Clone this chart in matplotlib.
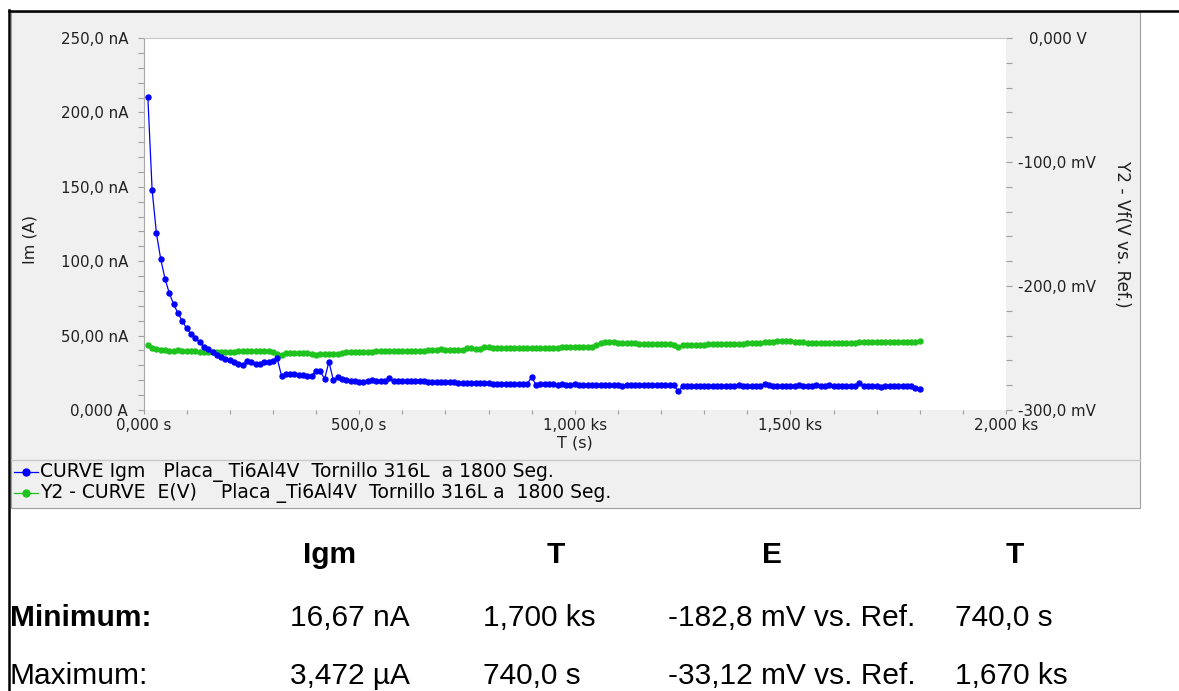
import numpy as np
import matplotlib
matplotlib.use("Agg")
import matplotlib.pyplot as plt
from matplotlib.lines import Line2D
from matplotlib.patches import Rectangle
from matplotlib.ticker import FixedLocator, MultipleLocator

# sample times (s), one reading every 10 s
time_s = np.arange(10, 1810, 10)

# CURVE Igm (nA)
igm_na = [
    210.6, 147.8, 118.7, 101.3, 88.0, 78.4, 71.0, 65.0, 59.8, 54.9, 51.1, 48.2, 45.5, 42.5, 40.8,
    38.8, 37.2, 35.8, 34.5, 33.4, 32.3, 31.1, 30.4, 32.7, 32.0, 31.1, 31.1, 32.0, 32.0, 33.2, 34.7,
    23.1, 24.0, 24.0, 24.0, 23.8, 23.5, 23.1, 22.6,
    26.4, 26.0, 20.8, 32.5, 20.2, 22.0,
    20.8, 20.2, 19.7, 19.3, 18.8, 19.0, 19.3, 19.9, 19.3, 19.3, 19.3, 21.5, 19.5,
    19.3, 19.4, 19.3, 19.3, 19.2, 19.3, 19.3, 19.1,
    18.8, 18.9, 18.8, 18.7, 18.8, 18.8,
    18.4, 18.3, 18.3, 18.2, 18.3, 18.3, 18.2, 18.2,
    17.8, 17.7, 17.7, 17.6, 17.7, 17.7, 17.6, 17.6, 17.7,
    22.0, 17.1,
    17.2, 17.3, 17.6, 17.2, 17.1, 17.6, 17.1, 17.1, 17.2, 17.1, 17.1, 17.0, 17.1, 16.7, 16.6, 16.6,
    16.7, 16.6, 16.6, 16.3, 16.6, 16.6, 16.6, 16.6, 16.5, 16.6, 16.6, 16.6, 16.6, 16.6, 16.5, 16.6,
    12.5, 15.8,
    15.9, 16.0, 16.0, 16.1, 16.1,
    16.1, 16.1, 16.1, 16.2, 16.1, 16.1, 16.3, 16.8, 16.2, 16.1, 16.1, 16.1, 16.4, 17.4, 16.5, 16.2,
    16.1, 16.1, 16.1, 16.1, 16.2, 16.8, 15.9, 15.8, 16.2, 16.8, 16.2, 16.0, 16.7, 16.1, 16.0, 15.9,
    16.0, 16.0, 16.2,
    18.0,
    16.0, 15.8, 15.8, 15.8, 15.7, 15.8, 15.8, 15.8, 15.9, 15.9, 16.0, 16.3,
    14.6, 14.2,
]

# Y2 - CURVE E(V) (mV vs. Ref.)
e_mv = [
    -247.6, -249.7, -251.0,
    -251.8, -252.0, -252.1, -252.1, -252.0, -252.2, -252.1, -252.1, -252.3,
    -253.0, -253.2, -253.2, -253.3, -253.2, -253.1, -253.2, -253.3, -253.2,
    -252.5, -252.4, -252.3, -252.4, -252.4, -252.5, -252.6, -252.7, -253.0,
    -255.0, -255.4,
    -254.3, -254.2, -254.3, -254.4, -254.3, -254.3, -254.5,
    -255.6,
    -254.7, -254.6, -254.5, -254.6, -254.5, -254.4,
    -253.6, -253.5, -253.5, -253.4, -253.5, -253.5, -253.4,
    -252.8, -252.7, -252.7, -252.6, -252.7, -252.7, -252.7, -252.6, -252.7, -252.7, -252.6, -252.6,
    -251.4, -251.3, -251.3, -251.2, -251.3, -251.3, -251.4, -251.5, -251.3,
    -249.7,
    -250.3, -251.0, -250.6,
    -249.0, -248.9,
    -250.0, -250.3, -250.3, -250.2, -250.3, -250.3, -250.3, -250.4, -250.3, -250.3, -250.2, -250.3,
    -250.3, -250.3, -250.3, -250.2,
    -249.0, -248.9, -248.9, -248.9, -249.0, -248.9, -248.9, -248.9,
    -247.2, -246.0, -245.4, -245.2, -245.4,
    -246.1, -246.2, -246.2, -246.2, -246.3,
    -246.9, -247.0, -247.0, -247.1, -247.0, -247.0, -246.9, -247.0, -247.2,
    -248.9,
    -247.8, -247.6, -247.6, -247.7, -247.5, -247.2,
    -246.9, -247.0, -247.0, -247.0, -247.1, -247.0, -246.8, -246.6, -246.4,
    -246.0, -246.0, -245.9, -245.8,
    -245.3, -245.2, -245.0,
    -244.2, -244.1, -244.0, -244.3,
    -245.0, -245.2, -245.3,
    -246.0, -246.0, -246.1, -246.0, -246.0, -245.9, -245.6, -246.0, -245.6, -245.9, -246.3, -245.8, -245.4,
    -245.2, -245.2, -245.3, -245.2, -245.2, -245.1, -245.2, -245.2, -245.3, -245.2, -245.2, -245.1, -245.0,
    -244.4,
]

x_ticks = [0, 500, 1000, 1500, 2000]
x_labels = ["0,000 s", "500,0 s", "1,000 ks", "1,500 ks", "2,000 ks"]
y1_ticks = [0, 50, 100, 150, 200, 250]
y1_labels = ["0,000 A", "50,00 nA", "100,0 nA", "150,0 nA", "200,0 nA", "250,0 nA"]
y2_ticks = [-300, -200, -100, 0]
y2_labels = ["-300,0 mV", "-200,0 mV", "-100,0 mV", "0,000 V"]

legend_labels = [
    "CURVE Igm   Placa_ Ti6Al4V  Tornillo 316L  a 1800 Seg.",
    "Y2 - CURVE  E(V)    Placa _Ti6Al4V  Tornillo 316L a  1800 Seg.",
]

table_headers = ["Igm", "T", "E", "T"]
table_min = ["16,67 nA", "1,700 ks", "-182,8 mV vs. Ref.", "740,0 s"]
table_max = ["3,472 \u00b5A", "740,0 s", "-33,12 mV vs. Ref.", "1,670 ks"]

BLUE = "#0000ff"
GREEN = "#1ec31e"
W, H = 1179, 691


def fx(px):
    return px / W


def fy(py):
    return 1 - py / H


fig = plt.figure(figsize=(W / 100, H / 100), dpi=100)
fig.patch.set_facecolor("white")

# gray chart panel + legend strip
fig.add_artist(Rectangle((fx(11), fy(508)), fx(1140) - fx(11), fy(12) - fy(508),
                         transform=fig.transFigure, facecolor="#f0f0f0",
                         edgecolor="#a0a0a0", lw=0.8, zorder=0))
fig.add_artist(Line2D([fx(11), fx(1140)], [fy(460), fy(460)], transform=fig.transFigure,
                      color="#c8c8c8", lw=1.0))
# black page border
fig.add_artist(Line2D([fx(9.5), fx(9.5)], [fy(10), 0], transform=fig.transFigure,
                      color="black", lw=1.8))
fig.add_artist(Line2D([fx(9), 1], [fy(10.5), fy(10.5)], transform=fig.transFigure,
                      color="black", lw=1.8))

ax = fig.add_axes([fx(143.5), fy(410), fx(1006) - fx(143.5), fy(38) - fy(410)])
ax.set_facecolor("white")
ax2 = ax.twinx()

ax.plot(time_s, igm_na, color=BLUE, lw=0.9, marker="o", ms=3.6, mec=BLUE, mfc=BLUE,
        zorder=3, clip_on=False)
ax2.plot(time_s, e_mv, color=GREEN, lw=0.9, marker="o", ms=3.6, mec=GREEN, mfc=GREEN,
         zorder=2, clip_on=False)
ax.set_zorder(ax2.get_zorder() + 1)
ax.patch.set_visible(False)
ax2.patch.set_visible(True)
ax2.patch.set_facecolor("white")

ax.set_xlim(0, 2000)
ax.set_ylim(0, 250)
ax2.set_ylim(-300, 0)

ax.xaxis.set_major_locator(FixedLocator(x_ticks))
ax.set_xticklabels(x_labels)
ax.xaxis.set_minor_locator(MultipleLocator(100))
ax.yaxis.set_major_locator(FixedLocator(y1_ticks))
ax.set_yticklabels(y1_labels)
ax.yaxis.set_minor_locator(MultipleLocator(10))
ax2.yaxis.set_major_locator(FixedLocator(y2_ticks))
ax2.set_yticklabels(y2_labels, ha="center")
ax2.yaxis.set_minor_locator(MultipleLocator(20))

tick_col = "#a0a0a0"
for a in (ax, ax2):
    for s in a.spines.values():
        s.set_visible(False)
ax.spines["left"].set_visible(True)
ax.spines["left"].set_color("#a8a8a8")
ax.spines["top"].set_visible(True)
ax.spines["top"].set_color("#c8c8c8")

ax.tick_params(axis="y", which="both", direction="out", length=4, width=0.8,
               color=tick_col, labelsize=10.8, pad=7, labelcolor="#202020")
ax.tick_params(axis="x", which="both", direction="out", length=3, width=0.8,
               color=tick_col, labelsize=10.8, pad=3, labelcolor="#202020")
ax2.tick_params(axis="y", which="both", direction="out", length=4, width=0.8,
                color=tick_col, labelsize=10.8, pad=33, labelcolor="#202020")

# axis titles
fig.text(fx(575), fy(443), "T (s)", ha="center", va="center", fontsize=11.5, color="#202020")
fig.text(fx(30), fy(240), "Im (A)", ha="center", va="center", rotation=90,
         fontsize=11.5, color="#202020")
fig.text(fx(1122), fy(234), "Y2 - Vf(V vs. Ref.)", ha="center", va="center",
         rotation=270, fontsize=12.2, color="#202020")

# legend
for row_y, col, lab in zip([472, 493], [BLUE, GREEN], legend_labels):
    fig.add_artist(Line2D([fx(14), fx(38)], [fy(row_y), fy(row_y)], transform=fig.transFigure,
                          color=col, lw=0.9))
    fig.add_artist(Line2D([fx(26)], [fy(row_y)], transform=fig.transFigure, color=col,
                          marker="o", ms=5, mec=col, mfc=col))
    fig.text(fx(40), fy(row_y), lab, ha="left", va="center", fontsize=13.5, color="black")

# stats table
tfont = "Liberation Sans"
tsize = 21.5
for x_c, h in zip([330, 556, 772, 1015], table_headers):
    fig.text(fx(x_c), fy(563), h, ha="center", va="baseline", fontsize=tsize,
             fontweight="bold", family=tfont)
fig.text(fx(10), fy(626), "Minimum:", ha="left", va="baseline", fontsize=tsize,
         fontweight="bold", family=tfont)
fig.text(fx(10), fy(684), "Maximum:", ha="left", va="baseline", fontsize=tsize, family=tfont)
for x_l, vmin, vmax in zip([290, 483, 668, 955], table_min, table_max):
    fig.text(fx(x_l), fy(626), vmin, ha="left", va="baseline", fontsize=tsize, family=tfont)
    fig.text(fx(x_l), fy(684), vmax, ha="left", va="baseline", fontsize=tsize, family=tfont)

fig.savefig("out.png", dpi=100)
